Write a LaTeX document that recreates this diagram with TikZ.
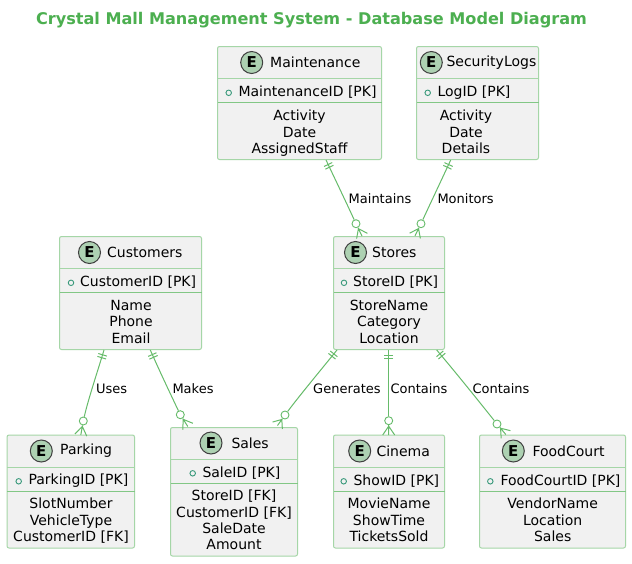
\documentclass[tikz,border=0pt]{standalone}
\usepackage{fontspec}
\setmainfont{DejaVu Sans}
\usetikzlibrary{calc}
\definecolor{titlegreen}{HTML}{4CAF50}
\definecolor{boxline}{HTML}{A5D6A7}
\definecolor{relgreen}{HTML}{66BB6A}
\definecolor{boxfill}{HTML}{F1F1F1}
\definecolor{ecircle}{HTML}{ADD1B2}
\definecolor{dotgreen}{HTML}{38997A}
\tikzset{
  x=1pt,y=-1pt,
  entbox/.style={draw=boxline,fill=boxfill,line width=1pt,rounded corners=2pt,inner sep=0pt},
  divider/.style={draw=boxline,line width=1pt},
  dividertwo/.style={draw=boxline!45!relgreen,line width=1pt},
  ebadge/.style={circle,draw=black!75,fill=ecircle,line width=1pt,minimum size=22pt,inner sep=0pt,font=\fontsize{15}{15}\selectfont\bfseries},
  enttitle/.style={anchor=west,inner sep=0pt,font=\fontsize{14}{14}\selectfont},
  pktext/.style={anchor=west,inner sep=0pt,font=\fontsize{14}{14}\selectfont},
  pkdot/.style={circle,draw=dotgreen,line width=.9pt,minimum size=5.5pt,inner sep=0pt},
  bodytext/.style={anchor=north,align=center,inner sep=0pt,font=\fontsize{14}{16.3}\selectfont},
  relline/.style={draw=relgreen,line width=1pt},
  relcircle/.style={circle,draw=relgreen,line width=.9pt,minimum size=8pt,inner sep=0pt},
  rellabel/.style={anchor=west,inner sep=0pt,font=\fontsize{13}{13}\selectfont},
  titletext/.style={inner sep=0pt,text=titlegreen,font=\fontsize{16.1}{16.1}\selectfont\bfseries},
}
% #1 name, #2 left, #3 top, #4 right, #5 bottom, #6 div1, #7 div2
\newcommand\entbox[7]{%
  \node[entbox,minimum width={#4-#2},minimum height={#5-#3}] (#1) at ({(#2+#4)/2},{(#3+#5)/2}) {};
  \draw[divider] (#2,#6) -- (#4,#6);
  \draw[dividertwo] (#2,#7) -- (#4,#7);
}
% #1 name, #2 badge x, #3 title west, #4 title y, #5 title, #6 dot x, #7 pk west, #8 pk y, #9 pk text
\newcommand\entHead[9]{%
  \node[ebadge] (#1badge) at (#2,#4) {E};
  \node[enttitle] (#1title) at (#3,#4) {#5};
  \node[pkdot] (#1dot) at (#6,{#8+.3}) {};
  \node[pktext] (#1pk) at (#7,#8) {#9};
}
% #1 start, #2 c1, #3 c2, #4 circle, #5 foot
\newcommand\relation[5]{%
  \draw[relline] (#1) .. controls (#2) and (#3) .. (#4);
  \path coordinate (tA) at ($(#1)!5pt!(#2)$) coordinate (tB) at ($(#1)!8pt!(#2)$)
        coordinate (tA1) at ($(tA)!4.5pt!90:(#2)$) coordinate (tA2) at ($(tA)!4.5pt!-90:(#2)$)
        coordinate (tB1) at ($(tB)!4.5pt!90:(#2)$) coordinate (tB2) at ($(tB)!4.5pt!-90:(#2)$)
        coordinate (fA) at ($(#4)!5.5pt!(#5)$)
        coordinate (fL) at ($(#5)!6pt!90:(#4)$) coordinate (fR) at ($(#5)!6pt!-90:(#4)$);
  \draw[relline] (tA1) -- (tA2) (tB1) -- (tB2);
  \draw[relline] (#4) -- (#5) (fA) -- (fL) (fA) -- (fR);
}
\begin{document}
\begin{tikzpicture}
\useasboundingbox (0,0) rectangle (632,563);
\fill[white] (0,0) rectangle (632,563);
\node[titletext] (title) at (311.5,20.5) {Crystal Mall Management System - Database Model Diagram};

\entbox{maint}{217.5}{46.5}{381.5}{159.5}{78.5}{102.5}
\entHead{maint}{251.7}{270}{62.5}{Maintenance}{228.7}{238.3}{92.5}{MaintenanceID [PK]}
\node[bodytext] (maintbody) at (299.5,110) {Activity\\Date\\AssignedStaff};

\entbox{sec}{416.5}{46.5}{538.5}{159.5}{78.5}{102.5}
\entHead{sec}{431.3}{446.3}{62.5}{SecurityLogs}{427.7}{437.3}{92.5}{LogID [PK]}
\node[bodytext] (secbody) at (466,110) {Activity\\Date\\Details};

\entbox{cust}{59.5}{236.5}{201.5}{349.5}{268.5}{292.5}
\entHead{cust}{89.5}{107}{252.5}{Customers}{71}{80}{282.5}{CustomerID [PK]}
\node[bodytext] (custbody) at (131,300) {Name\\Phone\\Email};

\entbox{stores}{333.5}{236.5}{444.5}{349.5}{268.5}{292.5}
\entHead{stores}{355.5}{372}{252.5}{Stores}{344}{353}{282.5}{StoreID [PK]}
\node[bodytext] (storesbody) at (389,300) {StoreName\\Category\\Location};

\entbox{park}{7}{435}{134.5}{548}{467.5}{491.5}
\entHead{park}{41.3}{60}{451}{Parking}{18.7}{28.3}{481}{ParkingID [PK]}
\node[bodytext] (parkbody) at (71,498) {SlotNumber\\VehicleType\\CustomerID [FK]};

\entbox{sales}{170.5}{427.5}{297.5}{556}{459.5}{483.5}
\entHead{sales}{211}{231.3}{443}{Sales}{192.7}{202.3}{473}{SaleID [PK]}
\node[bodytext] (salesbody) at (234,490) {StoreID [FK]\\CustomerID [FK]\\SaleDate\\Amount};

\entbox{cine}{333.5}{435}{444.5}{548}{467.5}{491.5}
\entHead{cine}{359.7}{376.3}{451}{Cinema}{343.7}{353.3}{481}{ShowID [PK]}
\node[bodytext] (cinebody) at (389,498) {MovieName\\ShowTime\\TicketsSold};

\entbox{food}{479.5}{435}{625.5}{548}{467.5}{491.5}
\entHead{food}{513.3}{532.3}{451}{FoodCourt}{490.3}{500.3}{481}{FoodCourtID [PK]}
\node[bodytext] (foodbody) at (552.7,498) {VendorName\\Location\\Sales};

% connectors
\coordinate (s1) at ([xshift=26.5pt]maint.south);
\coordinate (s2) at ([xshift=-26.8pt]sec.south);
\coordinate (s3) at ([xshift=-26.5pt]cust.south);
\coordinate (s4) at ([xshift=19.8pt]cust.south);
\coordinate (s5) at ([xshift=-52pt]stores.south);
\coordinate (s6) at ([xshift=-.3pt]stores.south);
\coordinate (s7) at ([xshift=47.7pt]stores.south);
\node[relcircle] (c1) at (356,223.7) {};
\node[relcircle] (c2) at (421,223.7) {};
\node[relcircle] (c3) at (83.3,421) {};
\node[relcircle] (c4) at (180.3,414.7) {};
\node[relcircle] (c5) at (285,415) {};
\node[relcircle] (c6) at (388.7,420.7) {};
\node[relcircle] (c7) at (497,424) {};
\coordinate (f1) at (362,236);
\coordinate (f2) at (415,235.8);
\coordinate (f3) at (80.8,435);
\coordinate (f4) at (187.8,426.5);
\coordinate (f5) at (277.5,425.5);
\coordinate (f6) at (388.7,435);
\coordinate (f7) at (505.8,434.5);
\coordinate (k1a) at (336,181); \coordinate (k1b) at (346,202);
\coordinate (k2a) at (441,181); \coordinate (k2b) at (431,202);
\coordinate (k3a) at (98,370); \coordinate (k3b) at (88,400);
\coordinate (k4a) at (160,372); \coordinate (k4b) at (170,393);
\coordinate (k5a) at (320,371); \coordinate (k5b) at (300,395);
\coordinate (k6a) at (388.7,365); \coordinate (k6b) at (388.7,400);
\coordinate (k7a) at (457,374); \coordinate (k7b) at (477,399);
\relation{s1}{k1a}{k1b}{c1}{f1}
\relation{s2}{k2a}{k2b}{c2}{f2}
\relation{s3}{k3a}{k3b}{c3}{f3}
\relation{s4}{k4a}{k4b}{c4}{f4}
\relation{s5}{k5a}{k5b}{c5}{f5}
\relation{s6}{k6a}{k6b}{c6}{f6}
\relation{s7}{k7a}{k7b}{c7}{f7}

\node[rellabel] (l1) at (348.5,198.7) {Maintains};
\node[rellabel] (l2) at (437.3,198.7) {Monitors};
\node[rellabel] (l3) at (96,388.5) {Uses};
\node[rellabel] (l4) at (172.3,388.5) {Makes};
\node[rellabel] (l5) at (313,388.5) {Generates};
\node[rellabel] (l6) at (390.3,388.5) {Contains};
\node[rellabel] (l7) at (472.3,388.5) {Contains};
\end{tikzpicture}
\end{document}
